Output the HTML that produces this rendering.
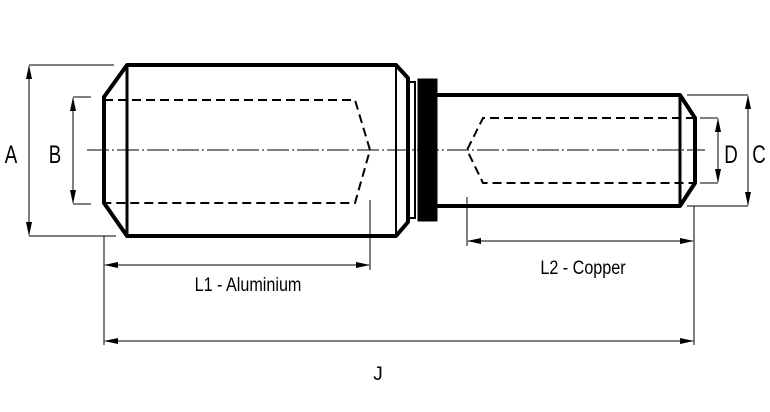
<!DOCTYPE html>
<html><head><style>body{margin:0;background:#fff}svg{display:block}text{font-family:"Liberation Sans",sans-serif;font-size:19px;fill:#000}.big{font-size:25px}</style></head><body>
<svg width="770" height="412" viewBox="0 0 770 412" xmlns="http://www.w3.org/2000/svg">
<defs><marker id="a" markerWidth="14" markerHeight="8" refX="13" refY="4" orient="auto-start-reverse" markerUnits="userSpaceOnUse"><path d="M0,1 L14,4 L0,7 z" fill="#000"/></marker></defs>
<g fill="none" stroke="#000">
<line x1="87" y1="150" x2="705" y2="150" stroke-width="1" stroke-dasharray="22,3,2,3"/>
<path d="M127,65 L396,65 L408,78 L408,222 L396,236 L127,236 L104,203 L104,97 Z" stroke-width="4" stroke-linejoin="round"/>
<line x1="127" y1="65" x2="127" y2="236" stroke-width="3"/>
<line x1="396" y1="65" x2="396" y2="236" stroke-width="2"/>
<rect x="409" y="82" width="6" height="136" stroke-width="2"/>
<rect x="418" y="79" width="19" height="142" fill="#000" stroke-width="1"/>
<path d="M437,95 L680,95 L695,118 L695,183 L680,206 L437,206" stroke-width="4" stroke-linejoin="round"/>
<line x1="680" y1="95" x2="680" y2="206" stroke-width="3"/>
<path d="M104,100 L355,100 L370,150 L355,203 L104,203" stroke-width="2" stroke-dasharray="9,5"/>
<path d="M695,118 L483,118 L467,150 L483,183 L695,183" stroke-width="2" stroke-dasharray="9,5"/>
<g stroke-width="1">
<line x1="29" y1="65" x2="114" y2="65"/><line x1="29" y1="236" x2="116" y2="236"/>
<line x1="29" y1="66" x2="29" y2="235" marker-start="url(#a)" marker-end="url(#a)"/>
<line x1="73" y1="97" x2="91" y2="97"/><line x1="73" y1="204" x2="91" y2="204"/>
<line x1="73" y1="98" x2="73" y2="203" marker-start="url(#a)" marker-end="url(#a)"/>
<line x1="700" y1="118" x2="718" y2="118"/><line x1="700" y1="183" x2="718" y2="183"/>
<line x1="718" y1="119" x2="718" y2="182" marker-start="url(#a)" marker-end="url(#a)"/>
<line x1="687" y1="95" x2="748" y2="95"/><line x1="687" y1="206" x2="748" y2="206"/>
<line x1="748" y1="96" x2="748" y2="205" marker-start="url(#a)" marker-end="url(#a)"/>
<line x1="104" y1="236" x2="104" y2="345"/><line x1="370" y1="200" x2="370" y2="270"/>
<line x1="105" y1="265" x2="369" y2="265" marker-start="url(#a)" marker-end="url(#a)"/>
<line x1="467" y1="197" x2="467" y2="246"/><line x1="694" y1="206" x2="694" y2="345"/>
<line x1="468" y1="241" x2="693" y2="241" marker-start="url(#a)" marker-end="url(#a)"/>
<line x1="105" y1="341" x2="693" y2="341" marker-start="url(#a)" marker-end="url(#a)"/>
</g></g>
<g class="big">
<text x="11" y="163" text-anchor="middle" transform="translate(11,0) scale(0.75,1) translate(-11,0)" class="big">A</text>
<text x="55" y="163" text-anchor="middle" transform="translate(55,0) scale(0.75,1) translate(-55,0)" class="big">B</text>
<text x="731" y="163" text-anchor="middle" transform="translate(731,0) scale(0.75,1) translate(-731,0)" class="big">D</text>
<text x="759" y="163" text-anchor="middle" transform="translate(759,0) scale(0.75,1) translate(-759,0)" class="big">C</text>
</g>
<text x="248" y="291" text-anchor="middle" transform="translate(248,0) scale(0.85,1) translate(-248,0)">L1 - Aluminium</text>
<text x="583" y="274" text-anchor="middle" transform="translate(583,0) scale(0.85,1) translate(-583,0)">L2 - Copper</text>
<text x="378" y="380" text-anchor="middle">J</text>
</svg></body></html>
